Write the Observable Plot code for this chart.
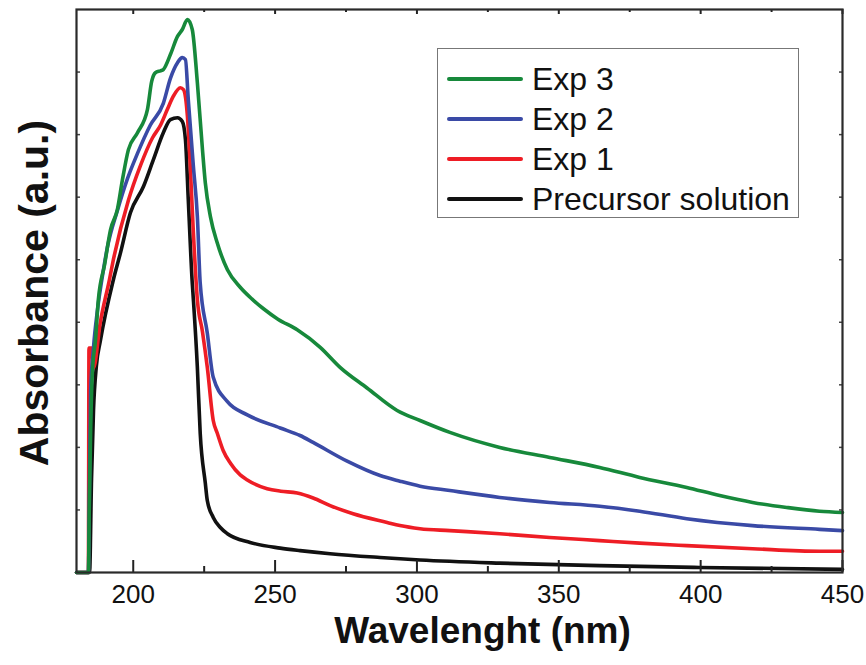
<!DOCTYPE html>
<html>
<head>
<meta charset="utf-8">
<script src="https://cdn.jsdelivr.net/npm/d3@7"></script>
<script src="https://cdn.jsdelivr.net/npm/@observablehq/plot@0.6"></script>
<style>
  body { margin: 0; background: #fff; font-family: "Liberation Sans", Arial, sans-serif; }
  #wrap { position: relative; width: 866px; height: 665px; }
  #legend { position: absolute; left: 437px; top: 48px; width: 362px; height: 170px;
    box-sizing: border-box; border: 1.5px solid #777; background: #fff; }
  .row { position: absolute; left: 0; height: 40px; display: flex; align-items: center; }
  .sw { width: 76px; height: 4px; margin-left: 9px; margin-right: 9px; border-radius: 2px; }
  .lb { font-size: 32px; color: #111; white-space: nowrap; }
</style>
</head>
<body>
<div id="wrap"></div>
<script>
// ---- data (wavelength nm, absorbance a.u.) ----
const seriesNames = ["Exp 3", "Exp 2", "Exp 1", "Precursor solution"];
const seriesColors = ["#17893b", "#3a4aa6", "#ee1d25", "#111111"];

const exp3Nm  = [180, 184.2, 184.5, 185.0, 185.6, 186.7, 187.7, 189.9, 192.0, 194.4, 196.2, 198.3, 201.5, 205.0, 206.5, 207.8, 209.6, 210.6, 213.1, 215.6, 217.3, 219.1, 220.8, 222.6, 224.4, 225.4, 227.2, 229.6, 233.2, 237.7, 241.9, 245.8, 251.0, 257.8, 265.9, 272.9, 282.4, 293.0, 301.1, 311.6, 329.2, 346.8, 364.4, 378.5, 395.1, 406.7, 418.3, 430.3, 441.9, 450];
const exp3Abs = [0, 0, 1.0, 2.3, 3.2, 3.72, 4.36, 4.92, 5.48, 5.80, 6.28, 6.76, 7.03, 7.40, 7.85, 7.99, 8.02, 8.04, 8.28, 8.57, 8.68, 8.84, 8.68, 7.83, 6.76, 6.23, 5.69, 5.27, 4.84, 4.56, 4.37, 4.22, 4.05, 3.88, 3.60, 3.28, 2.95, 2.59, 2.43, 2.24, 2.00, 1.84, 1.68, 1.52, 1.36, 1.23, 1.12, 1.04, 0.98, 0.96];

const exp2Nm  = [180, 184.2, 184.6, 185.0, 186.0, 187.4, 189.0, 190.9, 194.5, 198.0, 201.5, 206.0, 210.6, 213.1, 215.6, 217.3, 218.4, 219.4, 221.2, 222.6, 223.6, 226.1, 228.2, 233.2, 240.2, 251.8, 258.8, 263.4, 275.4, 287.0, 294.0, 301.1, 311.6, 329.2, 346.8, 364.4, 378.5, 395.1, 418.3, 441.9, 450];
const exp2Abs = [0, 0, 1.5, 2.9, 3.6, 4.2, 4.7, 5.2, 5.8, 6.3, 6.7, 7.15, 7.5, 7.9, 8.15, 8.23, 8.20, 7.56, 6.49, 5.69, 4.63, 3.83, 3.12, 2.73, 2.52, 2.31, 2.19, 2.08, 1.78, 1.55, 1.46, 1.38, 1.31, 1.20, 1.12, 1.06, 0.98, 0.86, 0.75, 0.69, 0.67];

const exp1Nm  = [180, 184.2, 184.4, 185.3, 186.0, 188.4, 191.6, 193.0, 198.3, 202.5, 206.8, 209.6, 212.0, 214.1, 216.6, 217.7, 219.1, 220.1, 221.2, 222.6, 224.4, 226.1, 228.2, 229.6, 231.7, 234.2, 237.7, 240.2, 247.2, 252.0, 257.8, 263.4, 269.4, 277.5, 289.5, 294.0, 301.1, 311.6, 329.2, 346.8, 364.4, 378.5, 395.1, 418.3, 441.9, 450];
const exp1Abs = [0, 0, 3.59, 3.59, 3.27, 4.0, 4.68, 5.0, 5.95, 6.5, 6.95, 7.15, 7.40, 7.61, 7.75, 7.72, 7.29, 6.49, 5.43, 4.36, 3.85, 3.28, 2.43, 2.23, 1.95, 1.75, 1.56, 1.48, 1.34, 1.30, 1.27, 1.19, 1.07, 0.94, 0.80, 0.75, 0.70, 0.67, 0.62, 0.56, 0.51, 0.47, 0.43, 0.38, 0.34, 0.34];

const precNm  = [180, 184.6, 185.3, 186.0, 187.0, 188.4, 193.0, 195.5, 199.0, 203.6, 207.1, 210.6, 213.1, 215.6, 217.3, 218.4, 219.4, 220.8, 221.2, 222.6, 223.6, 225.4, 226.1, 228.2, 230.7, 233.2, 241.2, 251.8, 258.8, 269.4, 287.0, 301.1, 329.2, 364.4, 399.6, 450];
const precAbs = [0, 0, 1.5, 2.6, 3.3, 3.7, 4.68, 5.11, 5.75, 6.17, 6.60, 7.03, 7.24, 7.27, 7.21, 6.92, 5.96, 4.63, 4.36, 3.28, 2.23, 1.43, 1.15, 0.88, 0.72, 0.62, 0.48, 0.39, 0.35, 0.30, 0.24, 0.20, 0.15, 0.11, 0.08, 0.05];

const xDomain = [180, 450];
const yDomain = [0, 9];
const xMajorTicks = [200, 250, 300, 350, 400, 450];
const xMinorTicks = [225, 275, 325, 375, 425];
const yTicks = [1, 2, 3, 4, 5, 6, 7, 8];
const xLabel = "Wavelenght (nm)";
const yLabel = "Absorbance (a.u.)";

// ---- build table ----
const nmArrays = [exp3Nm, exp2Nm, exp1Nm, precNm];
const absArrays = [exp3Abs, exp2Abs, exp1Abs, precAbs];
const table = [];
// draw order: precursor, exp1, exp2, exp3 (green on top)
[3, 2, 1, 0].forEach(i => {
  nmArrays[i].forEach((w, j) => table.push({series: seriesNames[i], nm: w, abs: absArrays[i][j]}));
});

const frameW = 866 - 76 - 24;
const frameH = 665 - 9 - 93;

const chart = Plot.plot({
  width: 866,
  height: 665,
  marginLeft: 76,
  marginRight: 24,
  marginTop: 9,
  marginBottom: 93,
  style: {fontFamily: "'Liberation Sans', Arial, sans-serif", background: "#fff", color: "#111"},
  x: {domain: xDomain},
  y: {domain: yDomain},
  color: {domain: seriesNames, range: seriesColors},
  marks: [
    Plot.line(table, {x: "nm", y: "abs", z: "series", stroke: "series", strokeWidth: 3.6, strokeLinejoin: "round", strokeLinecap: "round", curve: "monotone-x"}),
    // inward ticks
    Plot.ruleX(xMajorTicks, {x: d => d, stroke: "#222", strokeWidth: 2, insetTop: frameH - 12}),
    Plot.ruleX(xMinorTicks, {x: d => d, stroke: "#222", strokeWidth: 2, insetTop: frameH - 6}),
    Plot.ruleX(xMajorTicks, {x: d => d, stroke: "#222", strokeWidth: 2, insetBottom: frameH - 5}),
    Plot.ruleX(xMinorTicks, {x: d => d, stroke: "#222", strokeWidth: 2, insetBottom: frameH - 3}),
    Plot.ruleY(yTicks, {y: d => d, stroke: "#444", strokeWidth: 1.5, insetRight: frameW - 4}),
    Plot.ruleY(yTicks, {y: d => d, stroke: "#444", strokeWidth: 1.5, insetLeft: frameW - 3}),
    Plot.frame({stroke: "#2a2a2a", strokeWidth: 2.2}),
    Plot.axisX({ticks: xMajorTicks, tickSize: 0, tickPadding: 12, fontSize: 26, label: null}),
    Plot.axisY({ticks: [], label: null}),
    Plot.text([xLabel], {frameAnchor: "bottom", lineAnchor: "middle", textAnchor: "middle", dy: 59, dx: 23, fontSize: 37, fontWeight: "bold", fill: "#111"}),
    Plot.text([yLabel], {frameAnchor: "left", lineAnchor: "middle", textAnchor: "middle", dx: -42, dy: 2, rotate: -90, fontSize: 41, fontWeight: "bold", fill: "#111"})
  ]
});

const wrap = document.getElementById("wrap");
wrap.appendChild(chart);

// legend (inside plot area)
const legend = document.createElement("div");
legend.id = "legend";
seriesNames.forEach((name, i) => {
  const row = document.createElement("div");
  row.className = "row";
  row.style.top = (10 + i * 40) + "px";
  const sw = document.createElement("div");
  sw.className = "sw";
  sw.style.background = seriesColors[i];
  const lb = document.createElement("span");
  lb.className = "lb";
  lb.textContent = name;
  row.appendChild(sw);
  row.appendChild(lb);
  legend.appendChild(row);
});
wrap.appendChild(legend);
</script>
</body>
</html>
